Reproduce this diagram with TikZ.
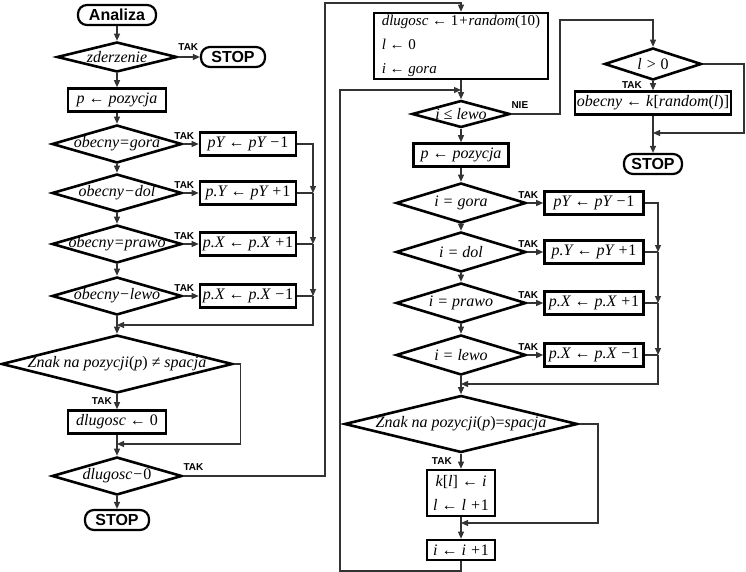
\documentclass[tikz,border=0pt]{standalone}
\usepackage{fontspec}
\setmainfont{Liberation Serif}
\setsansfont{Liberation Sans}
\usetikzlibrary{arrows.meta,positioning,shapes.geometric}

\begin{document}
\begin{tikzpicture}[
  x=1pt,y=-1pt,
  >={Triangle[length=7pt,width=6pt]},
  box/.style={draw,line width=2.6pt,inner sep=2pt,minimum height=23pt,font=\itshape\fontsize{16}{18}\selectfont},
  term/.style={draw,line width=2.2pt,rounded corners=9pt,minimum height=20pt,inner sep=2pt,font=\sffamily\bfseries\fontsize{16}{18}\selectfont},
  dec/.style={diamond,draw,line width=2.6pt,inner sep=0pt},
  dtext/.style={font=\itshape\fontsize{16}{18}\selectfont,inner sep=0pt},
  tak/.style={font=\sffamily\bfseries\fontsize{10}{12}\selectfont,inner sep=0pt},
  arr/.style={->,line width=1.2pt,draw=black!80},
  ln/.style={line width=1.2pt,draw=black!80}
]
\useasboundingbox (0,0) rectangle (746,572);

% left column
\node[term,minimum width=78pt] (start) at (117,15) {Analiza};
\node[dec,minimum width=120pt,minimum height=30pt,label={[dtext]center:zderzenie}] (zd) at (117,57) {};
\node[term,minimum width=64pt] (stopa) at (233,57) {STOP};
\node[box,minimum width=98pt] (poza) at (117,100) {p ← pozycja};
\node[dec,minimum width=130pt,minimum height=38pt,label={[dtext]center:obecny=gora}] (og) at (117,144) {};
\node[dec,minimum width=130pt,minimum height=38pt,label={[dtext]center:obecny−dol}] (od) at (117,193) {};
\node[dec,minimum width=130pt,minimum height=38pt,label={[dtext]center:obecny=prawo}] (op) at (117,244) {};
\node[dec,minimum width=130pt,minimum height=38pt,label={[dtext]center:obecny−lewo}] (ol) at (117,296) {};
\node[box,minimum width=96pt] (bga) at (248,144) {pY ← pY −\textup{1}};
\node[box,minimum width=96pt] (bda) at (248,193) {p.Y ← pY +\textup{1}};
\node[box,minimum width=96pt] (bpa) at (248,244) {p.X ← p.X +\textup{1}};
\node[box,minimum width=96pt] (bla) at (248,296) {p.X ← p.X −\textup{1}};
\node[dec,minimum width=231pt,minimum height=58pt,label={[dtext]center:Znak na pozycji\textup{(}p\textup{)} ≠ spacja}] (znaka) at (117,364) {};
\node[box,minimum width=98pt] (dla) at (117,422) {dlugosc ← \textup{0}};
\node[dec,minimum width=130pt,minimum height=38pt,label={[dtext]center:dlugosc−\textup{0}}] (dlz) at (117,476) {};
\node[term,minimum width=64pt] (stopb) at (117,520) {STOP};

\node[tak,anchor=south] (t1) at ([xshift=10pt,yshift=6pt]zd.east) {TAK};
\node[tak,anchor=south] (t2) at ([xshift=1pt,yshift=4pt]og.east) {TAK};
\node[tak,anchor=south] (t3) at ([xshift=1pt,yshift=4pt]od.east) {TAK};
\node[tak,anchor=south] (t4) at ([xshift=1pt,yshift=4pt]op.east) {TAK};
\node[tak,anchor=south] (t5) at ([xshift=1pt,yshift=4pt]ol.east) {TAK};
\node[tak,anchor=north east] (t6) at ([xshift=-5pt,yshift=-3pt]znaka.south) {TAK};
\node[tak,anchor=south west] (t7) at ([yshift=5pt]dlz.east) {TAK};

\coordinate (ma) at (313,193);
\coordinate (mb) at (313,244);
\coordinate (mc) at (313,296);
\coordinate (md) at (117,325);
\coordinate (me) at (117,444);

\draw[arr] (start) -- (zd);
\draw[arr] (zd) -- (stopa);
\draw[arr] (zd) -- (poza);
\draw[arr] (poza) -- (og);
\draw[arr] (og) -- (od);
\draw[arr] (od) -- (op);
\draw[arr] (op) -- (ol);
\draw[arr] (og) -- (bga);
\draw[arr] (od) -- (bda);
\draw[arr] (op) -- (bpa);
\draw[arr] (ol) -- (bla);
\draw[arr] (bga.east) -| (ma);
\draw[ln] (bda.east) -- (ma);
\draw[arr] (ma) -- (mb);
\draw[ln] (bpa.east) -- (mb);
\draw[arr] (mb) -- (mc);
\draw[ln] (bla.east) -- (mc);
\draw[arr] (mc) |- (md);
\draw[arr] (ol) -- (znaka);
\draw[arr] (znaka) -- (dla);
\draw[arr] (znaka.east) -- ++(7,0) |- (me);
\draw[arr] (dla) -- (dlz);
\draw[arr] (dlz) -- (stopb);

% right column
\node[box,minimum width=174pt,minimum height=66pt,align=left,font=\itshape\fontsize{15}{24}\selectfont] (init) at (461,46)
  {dlugosc ← \textup{1}+random\textup{(10)}\\l ← \textup{0}\\i ← gora};
\node[dec,minimum width=98pt,minimum height=27pt,label={[dtext]center:i ≤ lewo}] (ile) at (461,114) {};
\node[box,minimum width=95pt] (pozb) at (461,155) {p ← pozycja};
\node[dec,minimum width=130pt,minimum height=40pt,label={[dtext]center:i = gora}] (ig) at (461,203) {};
\node[dec,minimum width=130pt,minimum height=40pt,label={[dtext]center:i = dol}] (id) at (461,252) {};
\node[dec,minimum width=130pt,minimum height=40pt,label={[dtext]center:i = prawo}] (ip) at (461,303) {};
\node[dec,minimum width=130pt,minimum height=40pt,label={[dtext]center:i = lewo}] (il) at (461,355) {};
\node[box,minimum width=99pt] (bgb) at (594,203) {pY ← pY −\textup{1}};
\node[box,minimum width=99pt] (bdb) at (594,252) {p.Y ← pY +\textup{1}};
\node[box,minimum width=99pt] (bpb) at (594,303) {p.X ← p.X +\textup{1}};
\node[box,minimum width=99pt] (blb) at (594,355) {p.X ← p.X −\textup{1}};
\node[dec,minimum width=233pt,minimum height=57pt,label={[dtext]center:Znak na pozycji\textup{(}p\textup{)=}spacja}] (znakb) at (461,424) {};
\node[box,minimum width=68pt,minimum height=46pt,align=center,font=\itshape\fontsize{16}{24}\selectfont] (kl) at (461,493) {k\textup{[}l\textup{]} ← i\\l ← l +\textup{1}};
\node[box,minimum width=68pt,minimum height=20pt] (inc) at (461,550) {i ← i +\textup{1}};
\node[dec,minimum width=97pt,minimum height=32pt,label={[dtext]center:l > \textup{0}}] (lg) at (653,64) {};
\node[box,minimum width=154pt] (ob) at (653,103) {obecny ← k\textup{[}random\textup{(}l\textup{)]}};
\node[term,minimum width=58pt] (stopc) at (653,164) {STOP};

\node[tak,anchor=south west] (t8) at ([yshift=5pt]ile.east) {NIE};
\node[tak,anchor=south] (t9) at ([xshift=1pt,yshift=4pt]ig.east) {TAK};
\node[tak,anchor=south] (t10) at ([xshift=1pt,yshift=4pt]id.east) {TAK};
\node[tak,anchor=south] (t11) at ([xshift=1pt,yshift=4pt]ip.east) {TAK};
\node[tak,anchor=south] (t12) at ([xshift=1pt,yshift=4pt]il.east) {TAK};
\node[tak,anchor=north east] (t13) at ([xshift=-9pt,yshift=-4pt]znakb.south) {TAK};
\node[tak,anchor=north east] (t14) at ([xshift=-11pt]lg.south) {TAK};

\coordinate (la) at (461,90);
\coordinate (na) at (658,252);
\coordinate (nb) at (658,303);
\coordinate (nc) at (658,355);
\coordinate (nd) at (461,384);
\coordinate (ne) at (461,523);
\coordinate (nf) at (653,133);

\draw[arr] (dlz.east) -| (325,3) -| (init.north);
\draw[arr] (init) -- (ile);
\draw[arr] (inc.south) |- (340,571) |- (la);
\draw[arr] (ile.east) -| (560,20) -| (lg.north);
\draw[arr] (ile) -- (pozb);
\draw[arr] (pozb) -- (ig);
\draw[arr] (ig) -- (id);
\draw[arr] (id) -- (ip);
\draw[arr] (ip) -- (il);
\draw[arr] (ig) -- (bgb);
\draw[arr] (id) -- (bdb);
\draw[arr] (ip) -- (bpb);
\draw[arr] (il) -- (blb);
\draw[arr] (bgb.east) -| (na);
\draw[ln] (bdb.east) -- (na);
\draw[arr] (na) -- (nb);
\draw[ln] (bpb.east) -- (nb);
\draw[arr] (nb) -- (nc);
\draw[ln] (blb.east) -- (nc);
\draw[arr] (nc) |- (nd);
\draw[arr] (il) -- (znakb);
\draw[arr] (znakb) -- (kl);
\draw[arr] (znakb.east) -| (598,523) -- (ne);
\draw[arr] (kl) -- (inc);
\draw[arr] (lg) -- (ob);
\draw[arr] (lg.east) -| (744,133) -- (nf);
\draw[arr] (ob) -- (stopc);
\end{tikzpicture}
\end{document}
